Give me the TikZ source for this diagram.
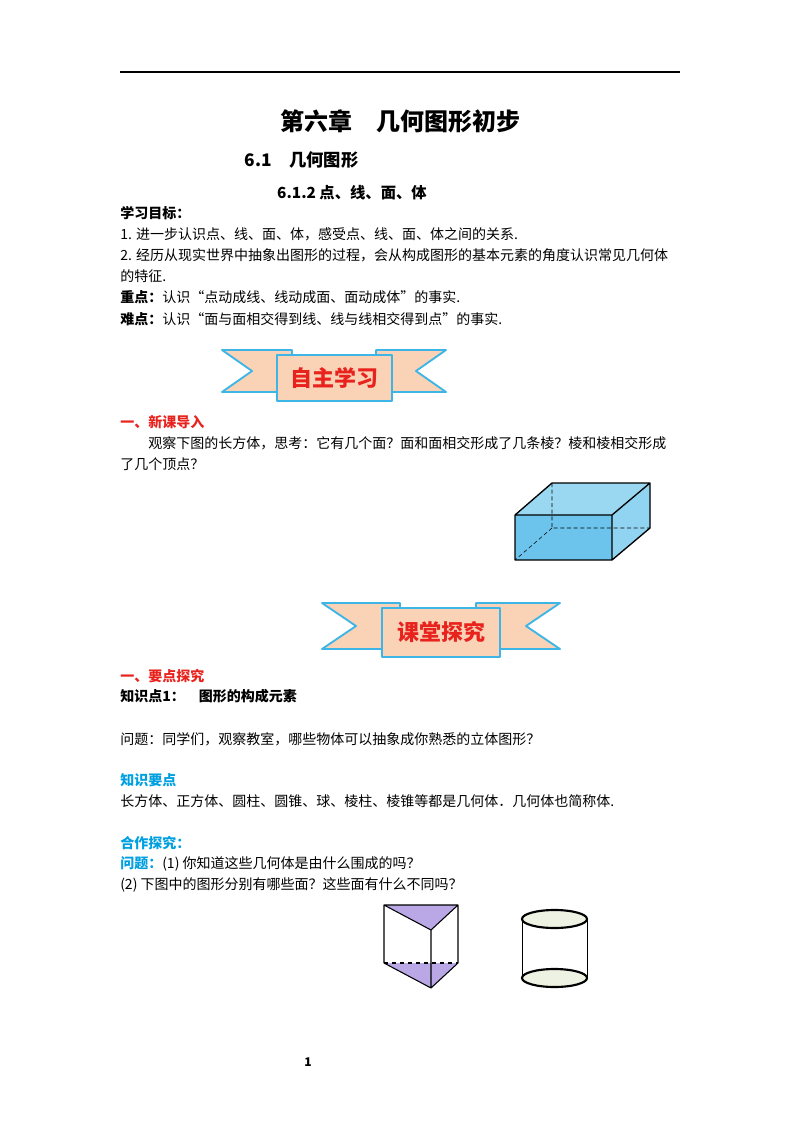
\documentclass[tikz,border=0pt]{standalone}
\usepackage{fontspec}
\setmainfont{Noto Sans CJK SC}
\usetikzlibrary{positioning}
\definecolor{peach}{HTML}{FAD2B6}
\definecolor{ribbon}{HTML}{3DB5E6}
\definecolor{redtxt}{HTML}{E8231E}
\definecolor{bluetxt}{HTML}{00A0E0}
\definecolor{boxblue}{HTML}{6CC3EB}
\definecolor{boxtop}{HTML}{9AD8F2}
\definecolor{purp}{HTML}{B9A7E6}
\definecolor{capfill}{HTML}{EEF2E2}
\tikzset{
  line/.style={anchor=west,font=\fontsize{10.5}{12}\selectfont,inner sep=0pt},
  head/.style={line,font=\fontsize{10.5}{12}\selectfont\bfseries},
  band/.style={draw=ribbon,line width=1.4pt,fill=peach,line join=round},
}
\begin{document}
\begin{tikzpicture}[x=0.75pt,y=-0.75pt]
\useasboundingbox (0,0) rectangle (800,1132);
\draw[line width=0.8pt] (120,72) -- (680,72);
\node[font=\fontsize{18}{20}\selectfont\bfseries] (title) at (400,121) {第六章\quad 几何图形初步};
\node[anchor=west,font=\fontsize{13}{15}\selectfont\bfseries] (sec) at (240,160) {6.1\quad 几何图形};
\node[font=\fontsize{11.5}{13}\selectfont\bfseries] (sub) at (352,193) {6.1.2\ 点、线、面、体};
\node[head] (goal) at (120,213) {学习目标：};
\node[line] (g1) at (120,234) {1. 进一步认识点、线、面、体，感受点、线、面、体之间的关系.};
\node[line] (g2) at (120,255) {2. 经历从现实世界中抽象出图形的过程，会从构成图形的基本元素的角度认识常见几何体};
\node[line] (g3) at (120,276) {的特征.};
\node[line] (k1) at (120,297) {\textbf{重点：}认识“点动成线、线动成面、面动成体”的事实.};
\node[line] (k2) at (120,319) {\textbf{难点：}认识“面与面相交得到线、线与线相交得到点”的事实.};
% banner 1
\draw[band] (222,350) -- (292,350) -- (292,392) -- (222,392) -- (252,371) -- cycle;
\draw[band] (446,350) -- (376,350) -- (376,392) -- (446,392) -- (416,371) -- cycle;
\draw[band] (277,355) rectangle (392,401);
\node[font=\fontsize{16.5}{18}\selectfont\bfseries,text=redtxt] (ban1) at (334,378) {自主学习};
\node[head,text=redtxt] (new) at (120,422) {一、新课导入};
\node[line] (p1) at (148,443) {观察下图的长方体，思考：它有几个面？面和面相交形成了几条棱？棱和棱相交形成};
\node[line] (p2) at (120,464) {了几个顶点？};
% cuboid
\fill[boxblue] (515,515) -- (552,483) -- (650,483) -- (650,528) -- (612,560) -- (515,560) -- cycle;
\fill[boxtop] (515,515) -- (552,483) -- (650,483) -- (612,515) -- cycle;
\fill[boxtop!80!boxblue] (612,515) -- (650,483) -- (650,528) -- (612,560) -- cycle;
\draw[densely dashed,thin] (552,483) -- (552,528) -- (650,528) (552,528) -- (515,560);
\draw[line width=1pt,line join=round] (515,515) rectangle (612,560) (515,515) -- (552,483) -- (650,483) -- (612,515) (650,483) -- (650,528) -- (612,560);
% banner 2
\draw[band] (322,603) -- (400,603) -- (400,649) -- (322,649) -- (356,626) -- cycle;
\draw[band] (560,603) -- (476,603) -- (476,649) -- (560,649) -- (526,626) -- cycle;
\draw[band] (382,608) rectangle (500,657);
\node[font=\fontsize{16.5}{18}\selectfont\bfseries,text=redtxt] (ban2) at (441,632) {课堂探究};
\node[head,text=redtxt] (key) at (120,676) {一、要点探究};
\node[head] (kp) at (120,696) {知识点1：\quad 图形的构成元素};
\node[line] (q0) at (120,739) {问题：同学们，观察教室，哪些物体可以抽象成你熟悉的立体图形？};
\node[head,text=bluetxt] (pts) at (120,780) {知识要点};
\node[line] (pt1) at (120,801) {长方体、正方体、圆柱、圆锥、球、棱柱、棱锥等都是几何体．几何体也简称体.};
\node[head,text=bluetxt] (coop) at (120,843) {合作探究：};
\node[line] (q1) at (120,864) {\textcolor{bluetxt}{\textbf{问题：}}(1)\ 你知道这些几何体是由什么围成的吗？};
\node[line] (q2) at (120,885) {(2)\ 下图中的图形分别有哪些面？这些面有什么不同吗？};
% prism
\fill[purp] (384,905) -- (458,905) -- (431,930) -- cycle;
\fill[purp] (384,963) -- (458,963) -- (431,988) -- cycle;
\draw[thick,line join=round] (384,905) -- (458,905) -- (431,930) -- cycle (384,905) -- (384,963) -- (431,988) -- (458,963) -- (458,905) (431,930) -- (431,988);
\draw[thick,dashed] (384,963) -- (458,963);
% cylinder
\draw[thin] (522,919) -- (522,978) (587,919) -- (587,978);
\draw[line width=1.6pt,fill=capfill] (554.5,919) ellipse (32.5 and 9);
\draw[line width=1.6pt,fill=capfill] (554.5,978) ellipse (32.5 and 9);
\node[font=\fontsize{9}{10}\selectfont\bfseries] (pg) at (308,1062) {1};
\end{tikzpicture}
\end{document}
